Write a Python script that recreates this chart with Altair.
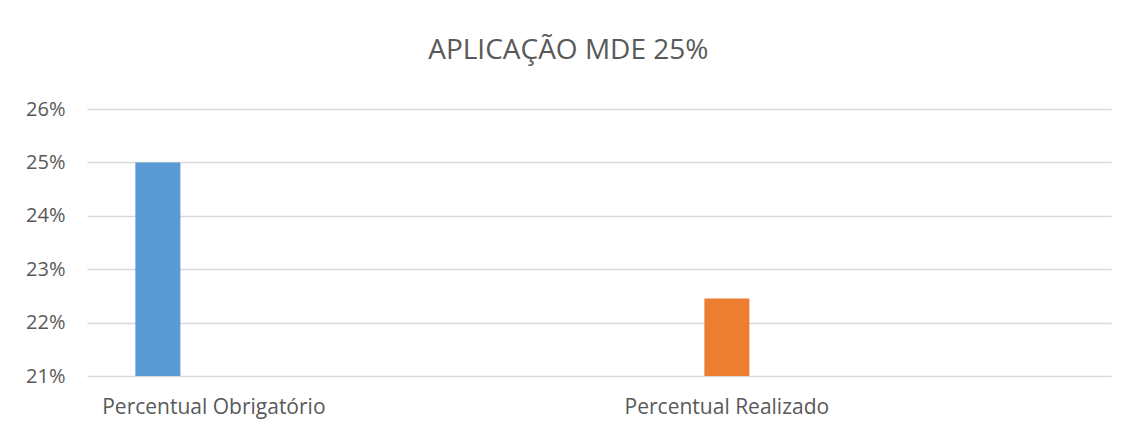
import altair as alt
import pandas as pd

categories = ["Percentual Obrigatório", "Percentual Realizado"]
values = [0.25, 0.2245]
series = ["Percentual Obrigatório", "Percentual Realizado"]
colors = ["#5B9BD5", "#ED7D31"]
y_ticks = [0.21, 0.22, 0.23, 0.24, 0.25, 0.26]
title_text = "APLICAÇÃO MDE 25%"

df = pd.DataFrame({"categoria": categories, "valor": values, "serie": series})

FONT = "Open Sans"
GREY = "#595959"

bars = alt.Chart(df).mark_bar().encode(
    x=alt.X(
        "categoria:N",
        sort=categories,
        scale=alt.Scale(paddingInner=0.6725, paddingOuter=0.3343, align=0.125),
        axis=alt.Axis(
            title=None, labelAngle=0, labelFontSize=21, labelColor=GREY, labelFont=FONT,
            ticks=False, domain=False, labelPadding=20, grid=False, labelLimit=500,
        ),
    ),
    xOffset=alt.XOffset(
        "serie:N",
        scale=alt.Scale(domain=series + [" "], paddingInner=0.196, paddingOuter=0.098),
    ),
    y=alt.Y(
        "valor:Q",
        scale=alt.Scale(domain=[0.21, 0.26], nice=False, zero=False),
        axis=alt.Axis(
            title=None, values=y_ticks, format=".0%", labelFontSize=20, labelColor=GREY,
            labelFont=FONT, ticks=False, domain=False, grid=True, gridColor="#D9D9D9",
            gridWidth=1.3, labelPadding=22,
        ),
    ),
    y2=alt.datum(0.21),
    color=alt.Color("serie:N", scale=alt.Scale(domain=series, range=colors), legend=None),
)

chart = bars.properties(
    width=1024,
    height=267,
    title=alt.TitleParams(
        text=title_text, fontSize=28, font=FONT, color=GREY, fontWeight="normal",
        anchor="middle", frame="bounds", offset=34,
    ),
    autosize=alt.AutoSizeParams(type="none"),
    padding={"left": 79, "top": 101, "right": 10, "bottom": 50},
).configure(background="white").configure_view(strokeWidth=0, stroke=None)

chart.save("out.html", embed_options={"renderer": "svg", "actions": False})
